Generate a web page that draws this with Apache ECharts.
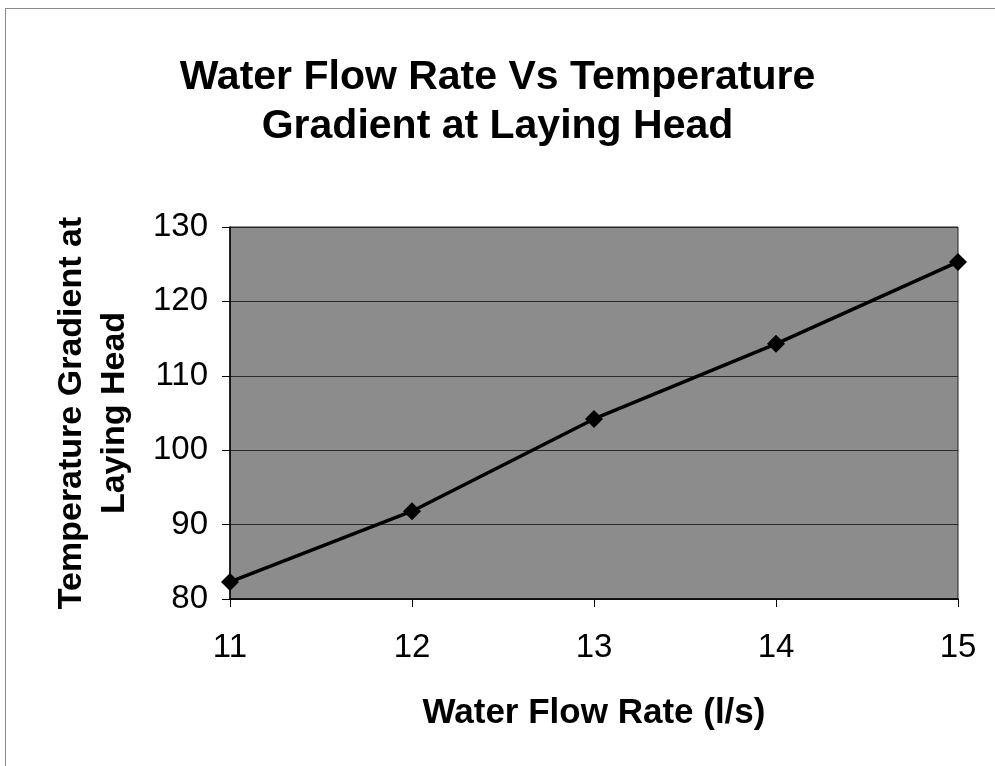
<!DOCTYPE html>
<html>
<head>
<meta charset="utf-8">
<script src="https://cdn.jsdelivr.net/npm/echarts@6/dist/echarts.min.js"></script>
<style>
  html, body { margin: 0; padding: 0; background: #fff; }
  #chart { width: 995px; height: 766px; }
</style>
</head>
<body>
<div id="chart"></div>
<script>
// Water flow rate (l/s) and resulting temperature gradient at the laying head
const flowRates = [11, 12, 13, 14, 15];
const tempGradient = [82.3, 91.8, 104.2, 114.3, 125.3];
const yTicks = { min: 80, max: 130, interval: 10 };
const xTicks = { min: 11, max: 15, interval: 1 };

const titleText = 'Water Flow Rate Vs Temperature\nGradient at Laying Head';
const xTitle = 'Water Flow Rate (l/s)';
const yTitle = 'Temperature Gradient at\nLaying Head';

const chart = echarts.init(document.getElementById('chart'), null, { renderer: 'canvas' });
const font = 'Liberation Sans, Arial, sans-serif';

chart.setOption({
  backgroundColor: '#ffffff',
  animation: false,
  title: {
    text: titleText,
    left: 'center',
    top: 48,
    textStyle: {
      fontFamily: font, fontSize: 41, fontWeight: 'bold', color: '#000',
      lineHeight: 49
    }
  },
  // thin frame along the top and left of the chart sheet
  graphic: [
    { type: 'line', shape: { x1: 5, y1: 8.5, x2: 995, y2: 8.5 },
      style: { stroke: '#8a8a8a', lineWidth: 1 }, silent: true },
    { type: 'line', shape: { x1: 5.5, y1: 8, x2: 5.5, y2: 766 },
      style: { stroke: '#8a8a8a', lineWidth: 1 }, silent: true }
  ],
  grid: {
    left: 230, top: 227, right: 37, bottom: 167,
    show: true,
    backgroundColor: '#8c8c8c',
    borderColor: '#222',
    borderWidth: 1
  },
  xAxis: {
    type: 'value',
    min: xTicks.min, max: xTicks.max, interval: xTicks.interval,
    name: xTitle,
    nameLocation: 'middle',
    nameGap: 97,
    nameTextStyle: { fontFamily: font, fontSize: 35, fontWeight: 'bold', color: '#000' },
    axisLine: { show: true, lineStyle: { color: '#000', width: 1.5 } },
    axisTick: { show: true, length: 8, lineStyle: { color: '#000' } },
    axisLabel: { fontFamily: font, fontSize: 33, color: '#000', margin: 32 },
    splitLine: { show: false }
  },
  yAxis: {
    type: 'value',
    min: yTicks.min, max: yTicks.max, interval: yTicks.interval,
    name: yTitle,
    nameLocation: 'middle',
    nameGap: 94,
    nameRotate: 90,
    nameTextStyle: { fontFamily: font, fontSize: 34, fontWeight: 'bold', color: '#000', lineHeight: 43 },
    axisLine: { show: true, lineStyle: { color: '#000', width: 1.5 } },
    axisTick: { show: true, length: 8, lineStyle: { color: '#000' } },
    axisLabel: { fontFamily: font, fontSize: 33, color: '#000', margin: 22 },
    splitLine: { show: true, lineStyle: { color: '#2a2a2a', width: 1 } }
  },
  series: [{
    type: 'line',
    data: flowRates.map((x, i) => [x, tempGradient[i]]),
    symbol: 'diamond',
    symbolSize: 18,
    itemStyle: { color: '#000' },
    lineStyle: { color: '#000', width: 3.5 },
    clip: false
  }]
});
</script>
</body>
</html>
